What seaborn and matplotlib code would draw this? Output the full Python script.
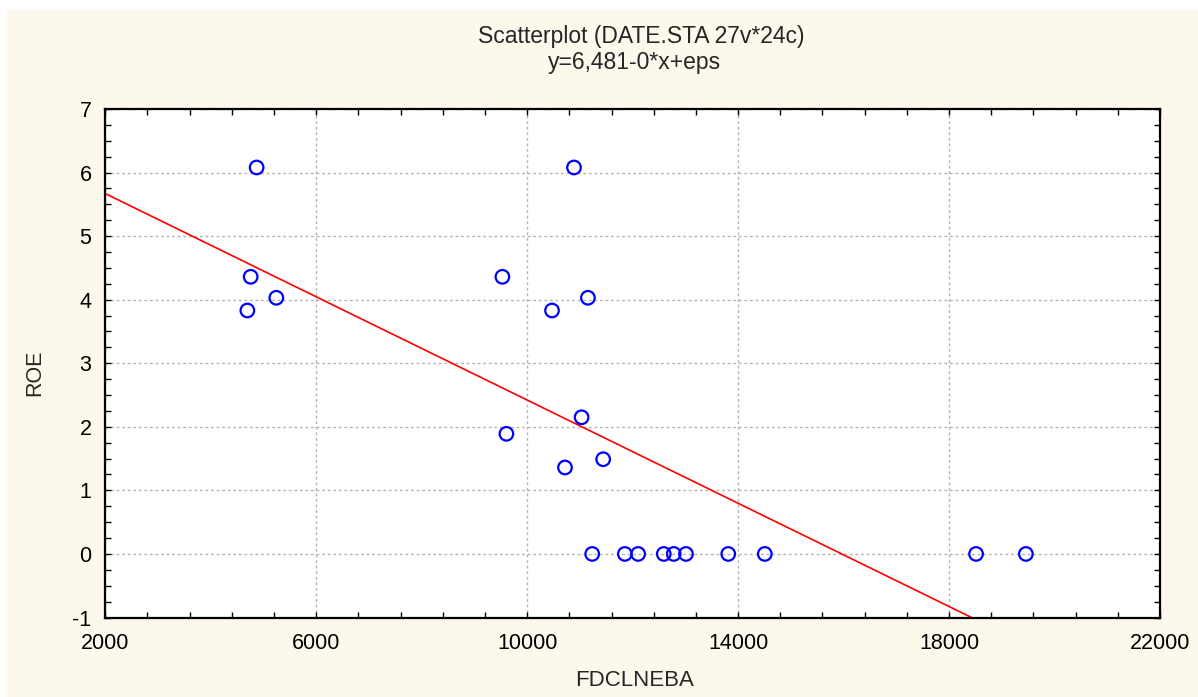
import numpy as np
import pandas as pd
import matplotlib
matplotlib.use("Agg")
import matplotlib.pyplot as plt
import seaborn as sns
from matplotlib.ticker import MultipleLocator
from matplotlib.patches import Rectangle

# ---- data ----
fdclneba = [4870, 10888, 4757, 5243, 4694, 9530, 10471, 11152, 11032, 9606,
            10717, 11441, 11233, 11852, 12104, 12590, 12779, 13011, 13813,
            14506, 18512, 19457]
roe = [6.08, 6.08, 4.36, 4.03, 3.83, 4.36, 3.83, 4.03, 2.15, 1.89,
       1.36, 1.49, 0, 0, 0, 0, 0, 0, 0, 0, 0, 0]
fit_intercept = 6.481
fit_slope = -0.000406
title_line1 = "Scatterplot (DATE.STA 27v*24c)"
title_line2 = "y=6,481-0*x+eps"
x_label = "FDCLNEBA"
y_label = "ROE"

df = pd.DataFrame({"FDCLNEBA": fdclneba, "ROE": roe})

sns.set_theme(style="white")
plt.rcParams["font.family"] = ["Liberation Sans", "DejaVu Sans"]
plt.rcParams["axes.unicode_minus"] = False

FS = 15.5
W, H = 1198, 697
fig = plt.figure(figsize=(W / 100, H / 100), dpi=100, facecolor="white")
fig.patches.append(Rectangle((7 / W, 0), 1, (H - 10) / H, transform=fig.transFigure,
                             facecolor="#fdf8ec", edgecolor="none", zorder=-10))

left, right, top, bottom = 105.3, 1160, 109, 617.5
ax = fig.add_axes([left / W, 1 - bottom / H, (right - left) / W, (bottom - top) / H])
ax.set_facecolor("white")

xmin, xmax = 2000, 22000
ax.set_xlim(xmin, xmax)
ax.set_ylim(-1, 7)

sns.scatterplot(data=df, x="FDCLNEBA", y="ROE", ax=ax, marker="o", s=95,
                facecolors="none", edgecolor="#0000ff", linewidth=1.6, zorder=3)

x_fit = np.array([xmin, xmax], dtype=float)
y_fit = fit_intercept + fit_slope * x_fit
sns.lineplot(x=x_fit, y=y_fit, ax=ax, color="#ff0000", linewidth=1.2, zorder=2)

ax.xaxis.set_major_locator(MultipleLocator(4000, offset=2000))
ax.xaxis.set_minor_locator(MultipleLocator(800, offset=400))
ax.yaxis.set_major_locator(MultipleLocator(1))
ax.yaxis.set_minor_locator(MultipleLocator(0.25))
ax.tick_params(which="both", direction="in", top=True, right=True, bottom=True, left=True,
               length=4, width=1, color="black")
ax.tick_params(axis="x", which="major", labelsize=FS, pad=11, labelcolor="black",
               labeltop=False)
ax.tick_params(axis="y", which="major", labelsize=FS, pad=10, labelcolor="black",
               labelright=False)
ax.grid(which="major", color="#b4b4b4", linestyle=(0, (2, 2)), linewidth=1)
ax.set_axisbelow(True)
for sp in ax.spines.values():
    sp.set_color("black")
    sp.set_linewidth(1.6)
    sp.set_visible(True)

ax.set_xlabel("")
ax.set_ylabel("")
fig.text(635 / W, 1 - 680 / H, x_label, ha="center", va="center", fontsize=16)
fig.text(35 / W, 1 - 373 / H, y_label, ha="center", va="center", fontsize=FS, rotation=90)
fig.text(641 / W, 1 - 43.3 / H, title_line1, ha="center", va="baseline", fontsize=16.5)
fig.text(635 / W, 1 - 69.3 / H, title_line2, ha="center", va="baseline", fontsize=16.5)

fig.savefig("out.png", dpi=100, facecolor=fig.get_facecolor())
